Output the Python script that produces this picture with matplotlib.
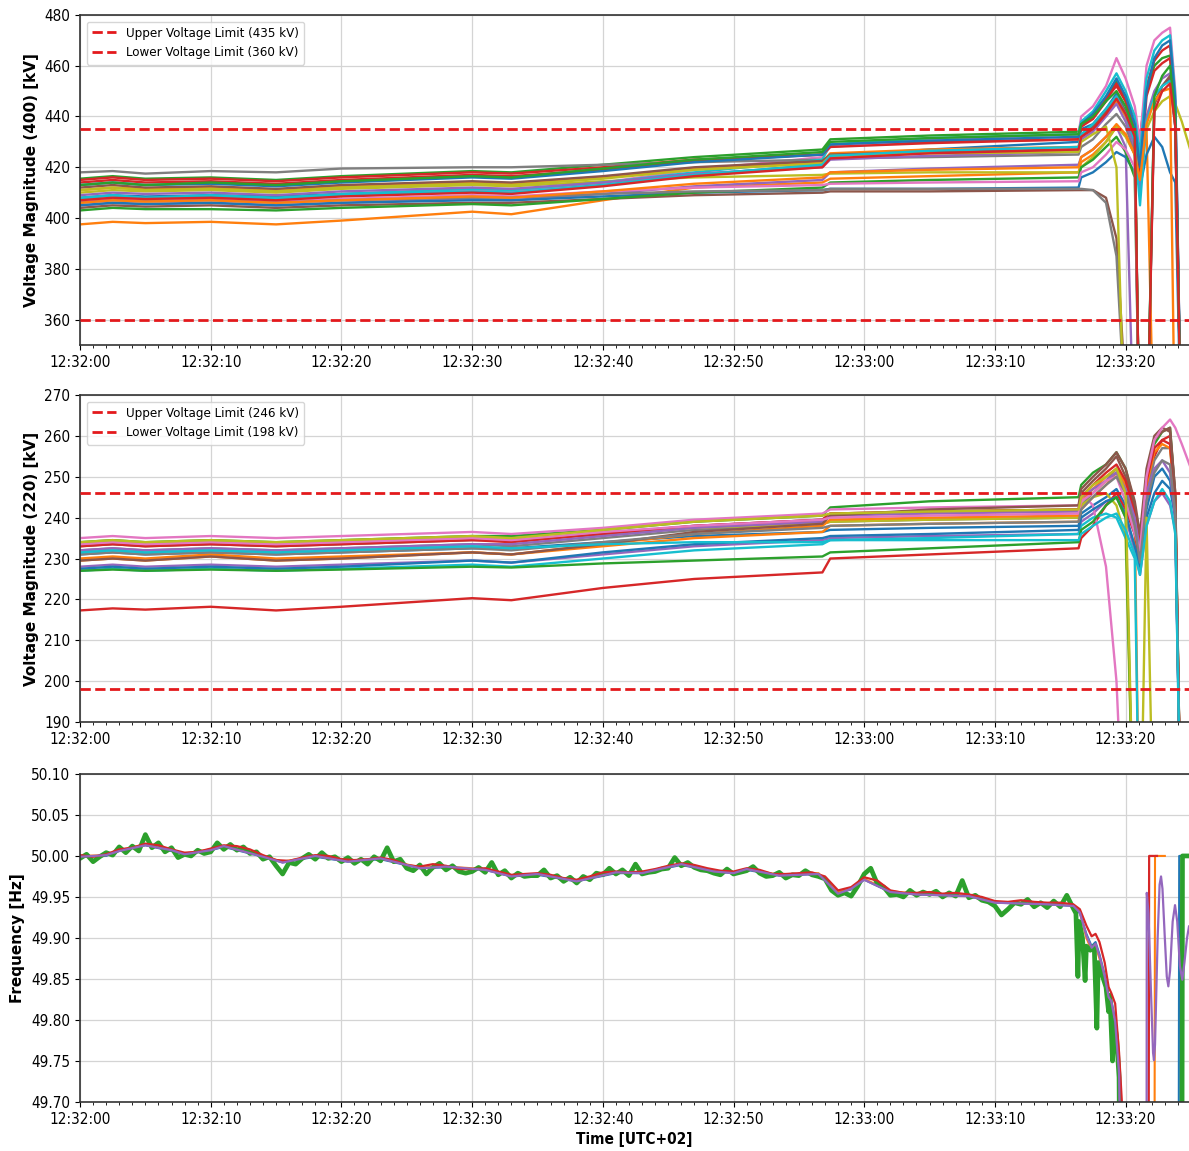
import numpy as np
import matplotlib.pyplot as plt
import matplotlib.dates as mdates
from matplotlib.ticker import MultipleLocator, FormatStrFormatter

plt.rcParams['font.family'] = ['DejaVu Sans']
plt.rcParams['font.stretch'] = 'condensed'
plt.rcParams['font.size'] = 11

# seconds after 12:32:00
t_steady = [0, 2.5, 5, 10, 15, 20, 30, 33, 40, 47, 56.8, 57.4, 65, 76.4]
t_event = [76.6, 77.5, 78.5, 79.3, 80.0, 80.7, 81.1, 81.6, 82.2, 82.8, 83.4, 83.8, 84.3, 85.0]
t_volt = t_steady + t_event

# ---- 400 kV buses (300 = dropped below the axis)
v400_01 = [408, 409, 408.5, 409, 408.5, 409.5, 411, 410.5, 413, 417, 421, 424.5, 427, 430,
           435, 437, 443, 449, 442, 430, 300, 300, 445, 452, 455, 437, 300, 300]
v400_02 = [397.5, 398.5, 398, 398.5, 397.5, 399, 402.5, 401.5, 407, 412, 414, 415.5, 416.5, 418,
           422, 425, 430, 436, 433, 425, 420, 435, 300, 300, 300, 300, 300, 300]
v400_03 = [415.5, 416.5, 415.5, 416, 415, 416.5, 418.5, 418, 421, 424, 427, 431, 432.5, 434,
           438, 441, 447, 454, 446, 436, 428, 450, 460, 463, 464, 442, 300, 300]
v400_04 = [415, 416, 415, 415.5, 414.5, 416, 418, 417.5, 420, 423, 425, 428.5, 430, 431,
           436, 439, 446, 453, 448, 440, 432, 452, 462, 466, 468, 445, 300, 300]
v400_05 = [405, 406, 405.5, 406, 405, 406, 407.5, 407, 409.5, 412.5, 415, 418, 419.5, 421,
           424, 427, 432, 436, 428, 300, 300, 300, 300, 300, 300, 300, 300, 300]
v400_06 = [404, 405, 404.5, 405, 404, 405, 406, 406, 407.5, 409, 410, 410.5, 410.5, 411,
           411, 411, 408, 392, 330, 300, 300, 300, 300, 300, 300, 300, 300, 300]
v400_07 = [407, 408, 407.5, 408, 407.5, 409, 411, 410.5, 414, 419, 424, 428, 431, 433,
           440, 444, 452, 463, 455, 444, 430, 460, 470, 473, 475, 450, 300, 300]
v400_08 = [418, 418.5, 417.5, 418.5, 418, 419.5, 420, 420, 421, 422, 423, 423.5, 424, 425,
           428, 431, 437, 441, 436, 426, 300, 300, 300, 300, 300, 300, 300, 300]
v400_09 = [410, 411, 410.5, 411, 410, 411.5, 413, 412.5, 414.5, 416, 417, 417.5, 418, 418,
           420, 424, 430, 436, 432, 425, 420, 435, 442, 446, 448, 445, 438, 426]
v400_10 = [408, 409, 408, 409, 408, 409.5, 411.5, 411, 414, 418, 423, 429, 431.5, 433,
           438, 442, 450, 457, 450, 440, 425, 455, 466, 470, 472, 448, 300, 300]
v400_11 = [405, 406, 405.5, 406, 405, 406, 407, 407, 408.5, 410, 411, 411.5, 411.5, 412,
           416, 418, 422, 426, 424, 418, 412, 425, 432, 428, 418, 414, 300, 300]
v400_12 = [411, 412, 411.5, 412, 411, 412.5, 414, 413.5, 416, 419.5, 422, 425.5, 427, 428,
           433, 436, 441, 446, 440, 430, 300, 300, 300, 300, 300, 300, 300, 300]
v400_13 = [403, 404, 403.5, 403.5, 403, 404, 405.5, 405, 407.5, 410, 412, 414, 415, 416,
           420, 423, 428, 432, 426, 416, 300, 300, 300, 300, 300, 300, 300, 300]
v400_14 = [414, 415, 414, 414.5, 413.5, 415, 417, 416.5, 419, 422.5, 425, 428, 429.5, 431,
           436, 440, 447, 452, 446, 436, 415, 448, 458, 461, 463, 440, 300, 300]
v400_15 = [409, 410, 409.5, 410, 409, 410.5, 412, 411.5, 414, 417.5, 420, 423, 424.5, 426,
           431, 434, 440, 445, 438, 428, 410, 440, 450, 455, 457, 438, 300, 300]
v400_16 = [412, 413, 412, 412.5, 411.5, 413, 414.5, 414, 416.5, 420, 422.5, 425, 426, 427,
           432, 436, 442, 448, 442, 432, 300, 300, 445, 452, 456, 436, 300, 300]
v400_17 = [406.5, 407.5, 407, 407.5, 406.5, 407.5, 409, 408.5, 410.5, 412, 413, 413.5, 414, 414.5,
           418, 420, 425, 430, 427, 420, 300, 300, 300, 300, 300, 300, 300, 300]
v400_18 = [406, 407, 406.5, 407, 406, 407, 408, 408, 409.5, 410.5, 411, 411.5, 411.5, 411.5,
           411.5, 411, 406, 385, 320, 300, 300, 300, 300, 300, 300, 300, 300, 300]
v400_19 = [411, 412, 411, 411.5, 410.5, 412, 413.5, 413, 415.5, 419, 421.5, 424.5, 425.5, 426,
           430, 433, 436, 420, 300, 300, 300, 300, 300, 300, 300, 300, 300, 300]
v400_20 = [407.5, 409, 407.5, 408.5, 407.5, 409, 410.5, 410, 413, 417, 421, 424.5, 426.5, 428,
           433, 437, 443, 448, 441, 430, 405, 438, 448, 452, 454, 436, 300, 300]
v400_21 = [413, 414, 413, 413.5, 412.5, 414, 416, 415.5, 418.5, 422, 425, 429, 430.5, 432,
           437, 441, 448, 455, 448, 437, 420, 450, 463, 468, 470, 446, 300, 300]
v400_22 = [406, 407, 406.5, 407, 406, 407, 408.5, 408, 410.5, 413.5, 416, 418, 419, 420,
           424, 427, 432, 437, 433, 425, 415, 437, 446, 450, 451, 300, 300, 300]
v400_23 = [413, 414, 413, 414, 413, 414.5, 416.5, 416, 419.5, 423, 426, 430, 431.5, 433,
           437, 440, 446, 450, 444, 434, 300, 300, 448, 456, 460, 440, 300, 300]
v400_24 = [407, 408, 407.5, 408, 407, 408.5, 410, 409.5, 412.5, 416.5, 420, 423.5, 425.5, 427,
           432, 435, 441, 447, 441, 432, 300, 300, 442, 450, 453, 436, 300, 300]
v400_series = [v400_01, v400_02, v400_03, v400_04, v400_05, v400_06, v400_07, v400_08,
               v400_09, v400_10, v400_11, v400_12, v400_13, v400_14, v400_15, v400_16,
               v400_17, v400_18, v400_19, v400_20, v400_21, v400_22, v400_23, v400_24]

# ---- 220 kV buses (150 = dropped below the axis)
v220_01 = [231, 231.5, 231, 231.5, 231, 231.5, 232.5, 232.5, 234, 235.5, 236.5, 237, 237.5, 238,
           241, 243, 245, 247, 243, 236, 228, 240, 246, 249, 247, 240, 150, 150]
v220_02 = [230, 230.5, 230, 231, 230, 230.5, 231.5, 231, 233, 235, 236.5, 238, 238.5, 239,
           242, 245, 248, 251, 246, 238, 150, 150, 150, 150, 150, 150, 150, 150]
v220_03 = [234, 234.5, 234, 234.5, 234, 234.5, 235.5, 235.5, 237, 239, 240.5, 242.5, 244, 245,
           248, 251, 253, 256, 252, 243, 232, 248, 258, 261, 262, 245, 150, 150]
v220_04 = [217.3, 217.8, 217.5, 218.2, 217.3, 218.2, 220.3, 219.8, 222.8, 225, 226.6, 230, 231, 232.5,
           235, 238, 243, 246, 242, 236, 230, 246, 255, 259, 260, 243, 150, 150]
v220_05 = [228, 228.5, 228, 228.5, 228, 228.5, 229.5, 229, 231, 233, 234.5, 235, 235.5, 236,
           239, 241, 244, 245, 240, 232, 226, 238, 244, 246, 243, 237, 150, 150]
v220_06 = [233, 233.5, 233, 233.5, 233, 233.5, 234.5, 234.5, 236, 238, 239.5, 241, 241.5, 242,
           246, 249, 252, 255, 250, 242, 233, 250, 259, 261, 262, 246, 150, 150]
v220_07 = [235, 235.5, 235, 235.5, 235, 235.5, 236.5, 236, 237.5, 239.5, 241, 242, 242.5, 243,
           246, 243, 228, 200, 150, 150, 150, 150, 150, 150, 150, 150, 150, 150]
v220_08 = [232, 232.5, 232, 232.5, 232, 232.5, 233.5, 233, 235, 237, 238.5, 239, 239.5, 240,
           243, 246, 249, 252, 247, 239, 231, 246, 254, 257, 257, 243, 150, 150]
v220_09 = [233.5, 234, 233.5, 234, 233.5, 234, 235, 234.5, 236, 237.5, 238.5, 239, 239.5, 240,
           243, 245, 246, 243, 235, 150, 150, 150, 150, 150, 150, 150, 150, 150]
v220_10 = [227, 227.5, 227, 227.5, 227, 227.5, 228.5, 228, 230, 232, 233.5, 234.5, 235, 236,
           238, 240, 241, 240, 235, 230, 150, 150, 150, 150, 150, 150, 150, 150]
v220_11 = [227.5, 228, 227.5, 228, 227.5, 228, 229.5, 229, 231.5, 233.5, 235, 235.5, 236, 237,
           240, 242, 244, 245, 241, 233, 228, 242, 250, 252, 249, 240, 150, 150]
v220_12 = [229.5, 230, 229.5, 230.5, 229.5, 230, 231.5, 231, 233.5, 236, 238, 239.5, 240, 240.5,
           244, 247, 250, 252, 248, 240, 232, 248, 256, 258, 257, 244, 150, 150]
v220_13 = [227, 227.3, 227, 227.3, 227, 227.3, 228, 227.8, 228.8, 229.5, 230.5, 231.5, 232.5, 234,
           237, 239, 243, 245, 240, 150, 150, 150, 150, 150, 150, 150, 150, 150]
v220_14 = [233, 233.5, 233, 233.5, 233, 233.5, 234.5, 234, 236, 238, 239.5, 241, 241.5, 242,
           245, 248, 251, 253, 249, 241, 233, 249, 257, 259, 258, 244, 150, 150]
v220_15 = [232, 232.5, 232, 232.5, 232, 232.5, 233.5, 233.5, 235.5, 237.5, 239, 240.5, 241, 241.5,
           245, 247, 249, 251, 247, 240, 232, 246, 252, 254, 251, 240, 150, 150]
v220_16 = [229.5, 230, 229.5, 230.5, 229.5, 230, 231.5, 231, 233.5, 236.5, 238.5, 240.5, 242, 243,
           247, 250, 253, 256, 252, 244, 236, 252, 260, 262, 261, 246, 150, 150]
v220_17 = [233.5, 234, 233.5, 234, 233.5, 234, 235, 234.5, 236.5, 238, 239.5, 240, 240.5, 241,
           244, 246, 249, 250, 244, 236, 232, 250, 259, 262, 264, 262, 258, 252]
v220_18 = [231, 231.5, 231, 231.5, 231, 231.5, 232.5, 232, 234, 236, 237.5, 238, 238.5, 239,
           242, 245, 248, 250, 246, 238, 229, 244, 251, 254, 253, 241, 150, 150]
v220_19 = [234, 234.5, 234, 234.5, 234, 234.5, 235.5, 235, 237, 239, 240.5, 241, 241.5, 242,
           245, 248, 250, 252, 246, 150, 150, 240, 150, 150, 150, 150, 150, 150]
v220_20 = [231.5, 232, 231.5, 232, 231.5, 232, 233, 232.5, 233.5, 234, 234, 234.5, 234.5, 234.5,
           236, 238, 240, 241, 237, 231, 226, 238, 244, 247, 244, 236, 150, 150]
v220_series = [v220_01, v220_02, v220_03, v220_04, v220_05, v220_06, v220_07, v220_08,
               v220_09, v220_10, v220_11, v220_12, v220_13, v220_14, v220_15, v220_16,
               v220_17, v220_18, v220_19, v220_20]

# ---- frequency
f_key_t = [0, 2, 3, 5, 7, 8, 10, 11, 14, 15.5, 18, 20.5, 23, 26, 28, 31, 33, 35, 38, 41,
           43, 46, 48.5, 50, 51, 53.5, 56.5, 58, 59, 60, 62, 64, 68, 70, 74, 76]
f_blue = [49.999, 50.000, 50.006, 50.013, 50.006, 50.002, 50.007, 50.011, 49.999, 49.992,
          49.999, 49.993, 49.996, 49.985, 49.986, 49.983, 49.975, 49.977, 49.969, 49.979,
          49.979, 49.989, 49.981, 49.979, 49.983, 49.976, 49.978, 49.955, 49.959, 49.971,
          49.956, 49.953, 49.951, 49.943, 49.941, 49.939]
f_orange = [50.000, 50.001, 50.007, 50.014, 50.007, 50.003, 50.008, 50.012, 50.000, 49.993,
            50.000, 49.994, 49.997, 49.986, 49.987, 49.984, 49.976, 49.978, 49.970, 49.980,
            49.980, 49.990, 49.982, 49.980, 49.984, 49.977, 49.979, 49.956, 49.960, 49.972,
            49.957, 49.954, 49.952, 49.944, 49.942, 49.940]
f_purple = [49.999, 50.001, 50.006, 50.013, 50.007, 50.002, 50.007, 50.012, 49.999, 49.992,
            50.000, 49.993, 49.997, 49.985, 49.987, 49.983, 49.975, 49.978, 49.969, 49.980,
            49.979, 49.990, 49.981, 49.979, 49.984, 49.976, 49.978, 49.954, 49.960, 49.971,
            49.956, 49.953, 49.951, 49.943, 49.941, 49.939]

blue_end_t = [76.5, 77.0, 77.4, 77.7, 78.0, 78.4, 78.7, 78.9, 79.2, 79.5, 79.65, 84.05, 84.1, 85.0]
blue_end = [49.930, 49.905, 49.890, 49.895, 49.880, 49.855, 49.830, 49.825, 49.800, 49.730,
            49.500, 49.500, 50.000, 50.000]
orange_end_t = [76.5, 77.0, 77.4, 77.7, 78.0, 78.4, 78.7, 78.9, 79.2, 79.5, 79.7, 82.2, 82.25, 83.0]
orange_end = [49.932, 49.900, 49.885, 49.890, 49.875, 49.850, 49.825, 49.820, 49.795, 49.740,
              49.500, 49.500, 50.000, 50.000]
purple_end_t = [76.5, 77.0, 77.4, 77.7, 78.0, 78.4, 78.7, 78.9, 79.2, 79.5, 79.7, 81.6, 81.62,
                81.75, 81.95, 82.1, 82.17, 82.25, 82.45, 82.6, 82.71, 82.82, 83.0, 83.15, 83.27,
                83.4, 83.6, 83.78, 83.95, 84.15, 84.34, 84.5, 84.7, 84.85]
purple_end = [49.931, 49.903, 49.888, 49.893, 49.878, 49.853, 49.828, 49.823, 49.798, 49.735,
              49.500, 49.500, 49.955, 49.930, 49.830, 49.760, 49.751, 49.770, 49.900, 49.965,
              49.975, 49.960, 49.900, 49.853, 49.841, 49.860, 49.920, 49.940, 49.920, 49.866,
              49.849, 49.870, 49.900, 49.914]

# red: one value per second 0..76, then the collapse
f_red = [50.001, 49.999, 50.002, 50.008, 50.010, 50.015, 50.013, 50.008, 50.004, 50.005,
         50.009, 50.013, 50.012, 50.008, 50.001, 49.995, 49.994, 49.998, 50.001, 50.000,
         49.996, 49.995, 49.996, 49.998, 49.995, 49.989, 49.987, 49.990, 49.988, 49.984,
         49.984, 49.985, 49.981, 49.977, 49.978, 49.979, 49.977, 49.973, 49.971, 49.975,
         49.980, 49.981, 49.980, 49.981, 49.984, 49.988, 49.991, 49.989, 49.985, 49.982,
         49.981, 49.985, 49.983, 49.978, 49.978, 49.979, 49.980, 49.975, 49.958, 49.962,
         49.974, 49.970, 49.958, 49.955, 49.955, 49.956, 49.954, 49.955, 49.953, 49.950,
         49.945, 49.944, 49.946, 49.944, 49.943, 49.943, 49.941]
red_end_t = [76.5, 77.0, 77.4, 77.7, 78.0, 78.4, 78.7, 78.9, 79.2, 79.5, 79.75, 80.0, 81.75, 81.8, 82.4]
red_end = [49.935, 49.915, 49.902, 49.905, 49.895, 49.870, 49.840, 49.833, 49.820, 49.760,
           49.690, 49.500, 49.500, 50.000, 50.000]

# green: noisy trace, one value per half second 0..76, then the collapse
f_green = [49.997, 50.002, 49.993, 49.999, 50.004, 50.001, 50.011, 50.004, 50.012, 50.006,
           50.026, 50.010, 50.016, 50.005, 50.010, 49.998, 50.002, 50.000, 50.007, 50.003,
           50.005, 50.016, 50.008, 50.014, 50.007, 50.011, 50.003, 50.005, 49.996, 49.999,
           49.988, 49.978, 49.992, 49.990, 49.997, 50.002, 49.996, 50.004, 49.997, 49.999,
           49.993, 49.998, 49.991, 49.996, 49.990, 49.999, 49.994, 50.010, 49.993, 49.996,
           49.985, 49.982, 49.989, 49.978, 49.986, 49.991, 49.983, 49.988, 49.981, 49.979,
           49.981, 49.986, 49.980, 49.992, 49.977, 49.982, 49.973, 49.979, 49.975, 49.976,
           49.976, 49.983, 49.973, 49.976, 49.969, 49.974, 49.967, 49.975, 49.971, 49.979,
           49.977, 49.985, 49.978, 49.983, 49.976, 49.990, 49.978, 49.980, 49.981, 49.984,
           49.985, 49.998, 49.988, 49.992, 49.986, 49.983, 49.982, 49.979, 49.977, 49.984,
           49.978, 49.980, 49.982, 49.987, 49.979, 49.975, 49.976, 49.980, 49.973, 49.977,
           49.976, 49.982, 49.977, 49.975, 49.972, 49.958, 49.952, 49.955, 49.951, 49.963,
           49.978, 49.985, 49.966, 49.962, 49.952, 49.953, 49.950, 49.958, 49.952, 49.956,
           49.953, 49.957, 49.950, 49.955, 49.951, 49.970, 49.949, 49.952, 49.946, 49.944,
           49.939, 49.928, 49.935, 49.943, 49.941, 49.947, 49.938, 49.943, 49.937, 49.945,
           49.938, 49.952, 49.936]
green_end_t = [76.2, 76.35, 76.45, 76.7, 76.9, 77.0, 77.3, 77.6, 77.8, 77.9, 78.2, 78.5, 78.7,
               78.8, 79.0, 79.1, 79.3, 79.5, 79.6, 84.3, 84.35, 85.0]
green_end = [49.930, 49.853, 49.920, 49.900, 49.848, 49.890, 49.885, 49.890, 49.790, 49.870,
             49.855, 49.840, 49.810, 49.830, 49.750, 49.800, 49.780, 49.730, 49.500, 49.500,
             50.000, 50.000]

start = np.datetime64('2025-04-28T12:32:00.000')


def clock(secs):
    ms = np.round(np.asarray(secs, dtype=float) * 1000).astype('int64')
    return start + ms.astype('timedelta64[ms]')


limit_red = '#e3191c'

fig = plt.figure(figsize=(11.89, 11.51), dpi=100)
ax1 = fig.add_axes([0.0673, 0.7003, 0.9327, 0.2867])
ax2 = fig.add_axes([0.0673, 0.3727, 0.9327, 0.2841])
ax3 = fig.add_axes([0.0673, 0.0426, 0.9327, 0.2850])


def style_time_axis(ax):
    ax.xaxis.set_major_locator(mdates.SecondLocator(bysecond=range(0, 60, 10)))
    ax.xaxis.set_minor_locator(mdates.SecondLocator())
    ax.xaxis.set_major_formatter(mdates.DateFormatter('%H:%M:%S'))
    ax.set_xlim(clock(0), clock(84.85))
    ax.grid(True, color='#d4d4d4', lw=0.9)
    ax.set_axisbelow(True)
    ax.spines['right'].set_visible(False)
    for s in ['left', 'top', 'bottom']:
        ax.spines[s].set_color('#333333')
        ax.spines[s].set_linewidth(1.2)


# 400 kV
tv = clock(t_volt)
for v in v400_series:
    ax1.plot(tv, v, lw=1.7)
ax1.axhline(435, color=limit_red, ls='--', lw=2, zorder=5, label='Upper Voltage Limit (435 kV)')
ax1.axhline(360, color=limit_red, ls='--', lw=2, zorder=5, label='Lower Voltage Limit (360 kV)')
ax1.set_ylim(350, 480)
ax1.yaxis.set_major_locator(MultipleLocator(20))
ax1.set_ylabel('Voltage Magnitude (400) [kV]', fontweight='bold', fontstretch='normal')
ax1.legend(loc='upper left', fontsize=9.5, handlelength=1.8, edgecolor='#cccccc')
style_time_axis(ax1)

# 220 kV
for v in v220_series:
    ax2.plot(tv, v, lw=1.7)
ax2.axhline(246, color=limit_red, ls='--', lw=2, zorder=5, label='Upper Voltage Limit (246 kV)')
ax2.axhline(198, color=limit_red, ls='--', lw=2, zorder=5, label='Lower Voltage Limit (198 kV)')
ax2.set_ylim(190, 270)
ax2.yaxis.set_major_locator(MultipleLocator(10))
ax2.set_ylabel('Voltage Magnitude (220) [kV]', fontweight='bold', fontstretch='normal')
ax2.legend(loc='upper left', fontsize=9.5, handlelength=1.8, edgecolor='#cccccc')
style_time_axis(ax2)

# frequency
ax3.plot(clock(f_key_t + blue_end_t), f_blue + blue_end, color='C0', lw=1.5)
ax3.plot(clock(f_key_t + orange_end_t), f_orange + orange_end, color='C1', lw=1.5)
ax3.plot(clock(list(np.arange(0, 76.5, 0.5)) + green_end_t), f_green + green_end, color='C2', lw=3.4)
ax3.plot(clock(list(range(77)) + red_end_t), f_red + red_end, color='C3', lw=1.6)
ax3.plot(clock(f_key_t + purple_end_t), f_purple + purple_end, color='C4', lw=1.6)
ax3.set_ylim(49.70, 50.10)
ax3.yaxis.set_major_locator(MultipleLocator(0.05))
ax3.yaxis.set_major_formatter(FormatStrFormatter('%.2f'))
ax3.set_ylabel('Frequency [Hz]', fontweight='bold', fontstretch='normal')
ax3.set_xlabel('Time [UTC+02]', fontweight='bold')
style_time_axis(ax3)

fig.savefig('out.png', dpi=100)
